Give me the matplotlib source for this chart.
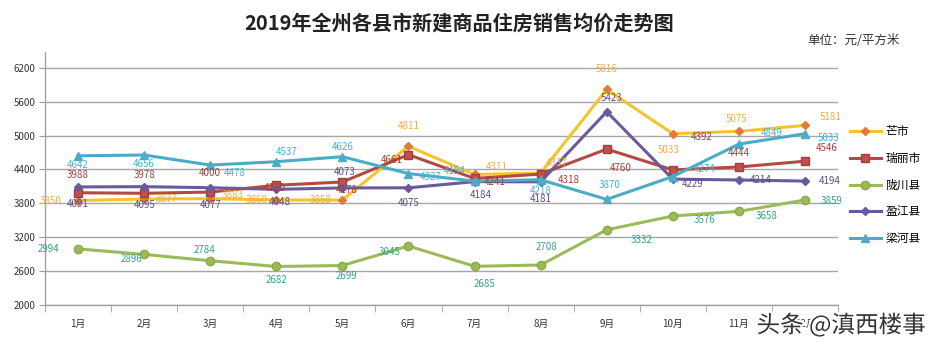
import numpy as np
import matplotlib
matplotlib.use("Agg")
import matplotlib.pyplot as plt
import matplotlib.patheffects as pe
from matplotlib.lines import Line2D

plt.rcParams['font.family'] = ['Noto Sans CJK SC', 'DejaVu Sans']

months = ['1月', '2月', '3月', '4月', '5月', '6月', '7月', '8月', '9月', '10月', '11月', '12月']
series_names = ['芒市', '瑞丽市', '陇川县', '盈江县', '梁河县']

mangshi = [3850, 3877, 3883, 3860, 3858, 4811, 4311, 4337, 5816, 5033, 5075, 5181]
ruili = [3988, 3978, 4000, 4120, 4178, 4661, 4241, 4318, 4760, 4392, 4444, 4546]
longchuan = [2994, 2896, 2784, 2682, 2699, 3045, 2685, 2708, 3332, 3576, 3658, 3859]
yingjiang = [4091, 4095, 4077, 4048, 4073, 4075, 4184, 4181, 5423, 4229, 4214, 4194]
lianghe = [4642, 4656, 4478, 4537, 4626, 4327, 4194, 4218, 3870, 4274, 4849, 5033]

yticks = [2000, 2600, 3200, 3800, 4400, 5000, 5600, 6200]

# label offsets in pixels (dx right, dy down)
off_mangshi = [(-27, 0), (22, 0), (22, -4), (-20, 0), (-22, 0), (0, -20),
               (22, -7), (16, -10), (0, -20), (-4, 16), (-2, -12), (26, -8)]
off_ruili = [(0, -18), (0, -18), (0, -19), (-2, 3), (4, 8), (-17, 5),
             (20, 4), (28, 6), (14, 19), (29, -33), (0, -14), (22, -13)]
off_longchuan = [(-30, 0), (-13, 5), (-6, -11), (0, 14), (4, 10), (-19, 6),
                 (10, 18), (6, -18), (35, 10), (32, 4), (28, 5), (27, 1)]
off_yingjiang = [(0, 17), (0, 18), (0, 17), (3, 13), (2, -16), (0, 15),
                 (6, 13), (0, 17), (5, -14), (20, 5), (22, 0), (25, 0)]
off_lianghe = [(0, 9), (0, 9), (24, 8), (10, -10), (0, -10), (22, 3),
               (-20, -10), (0, 11), (3, -14), (32, -8), (33, -11), (24, 4)]

styles = [
    dict(color='#f5c42c', marker='D', mfc='#e07b39', mec='#e07b39', ms=4.5, lab='#efad45'),
    dict(color='#b34a44', marker='s', mfc='#c0504d', mec='#a0403c', ms=6, lab='#a0403c'),
    dict(color='#9bbb59', marker='o', mfc='#9bbb59', mec='#8aaa48', ms=6, lab='#3a9f8c'),
    dict(color='#6a5a9c', marker='D', mfc='#6a5a9c', mec='#6a5a9c', ms=4.5, lab='#5e5080'),
    dict(color='#4bacc6', marker='^', mfc='#4bacc6', mec='#4bacc6', ms=6, lab='#47b2d6'),
]
all_values = [mangshi, ruili, longchuan, yingjiang, lianghe]
all_offsets = [off_mangshi, off_ruili, off_longchuan, off_yingjiang, off_lianghe]

fig = plt.figure(figsize=(9.4, 3.5), dpi=100)
ax = fig.add_axes([45 / 940, 45 / 350, 793 / 940, 253 / 350])

x = np.arange(len(months))
handles = []
for name, vals, st, offs in zip(series_names, all_values, styles, all_offsets):
    ax.plot(x, vals, color=st['color'], lw=2.2, marker=st['marker'],
            ms=st['ms'], mfc=st['mfc'], mec=st['mec'], zorder=3)
    handles.append(Line2D([0], [0], color=st['color'], lw=2.2, marker=st['marker'],
                          ms=st['ms'], mfc=st['mfc'], mec=st['mec']))
    for xi, v, (dx, dy) in zip(x, vals, offs):
        ax.annotate(str(v), (xi, v), xytext=(dx * 0.72, -dy * 0.72),
                    textcoords='offset points', ha='center', va='center',
                    fontsize=7, color=st['lab'], zorder=4)

ax.set_xlim(-0.5, 11.5)
ax.set_ylim(2000, 6480)
ax.set_yticks(yticks)
ax.set_yticklabels([str(t) for t in yticks], fontsize=7, color='#333333')
ax.set_xticks(x)
ax.set_xticklabels(months, fontsize=7, color='#333333')
ax.set_xticks(np.arange(-0.5, 12, 1), minor=True)
ax.tick_params(axis='x', which='major', length=0, pad=10)
ax.tick_params(axis='x', which='minor', length=5, color='#a0a0a0', direction='out')
ax.tick_params(axis='y', length=4, color='#a0a0a0', pad=3)
ax.grid(axis='y', color='#a6a6a6', lw=1)
ax.set_axisbelow(True)
for s in ['top', 'right']:
    ax.spines[s].set_visible(False)
for s in ['left', 'bottom']:
    ax.spines[s].set_color('#a0a0a0')
    ax.spines[s].set_linewidth(1)

fig.text(0.488, 0.935, '2019年全州各县市新建商品住房销售均价走势图', ha='center',
         va='center', fontsize=14.5, fontweight='bold', color='#222222')
fig.text(0.957, 0.885, '单位：元/平方米', ha='right', va='center', fontsize=9,
         color='#333333')

fig.legend(handles, series_names, loc='center left', bbox_to_anchor=(0.893, 0.471),
           frameon=False, fontsize=8.5, handlelength=2.6, labelspacing=1.15,
           handletextpad=0.4)

fig.text(0.985, 0.071, '头条 @滇西楼事', ha='right', va='center', fontsize=17,
         color='#333333', zorder=10,
         path_effects=[pe.withStroke(linewidth=3, foreground='white')])

fig.savefig('out.png', dpi=100, facecolor='white')
